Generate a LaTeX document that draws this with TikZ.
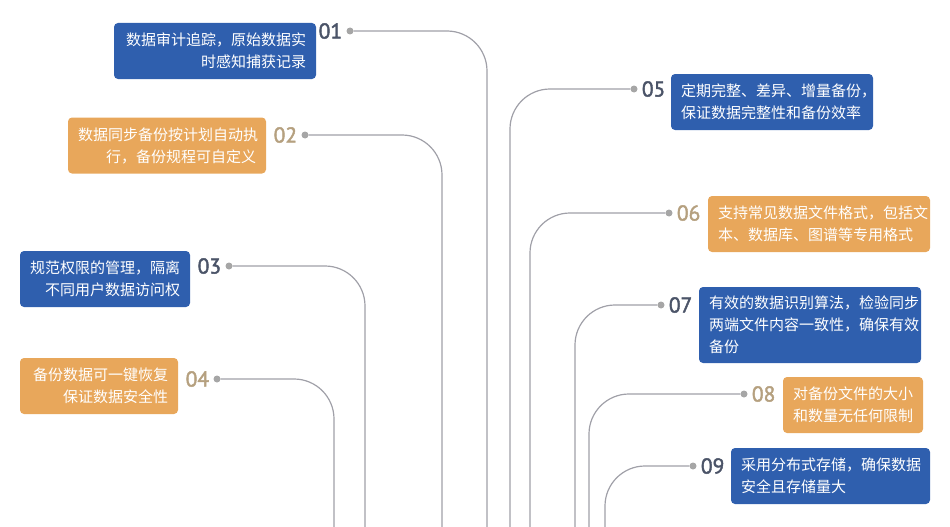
\documentclass[tikz,border=0pt]{standalone}
\usepackage{fontspec}
\setmainfont{Noto Sans CJK SC}
\newfontfamily\numfont[FakeBold=2]{PT Sans}
\usetikzlibrary{positioning}
\definecolor{boxblue}{HTML}{2F5FAE}
\definecolor{boxorange}{HTML}{E8A75B}
\definecolor{numblue}{HTML}{4B5468}
\definecolor{numtan}{HTML}{B5A07F}
\definecolor{linegray}{HTML}{A0A0A8}

\begin{document}
\begin{tikzpicture}[x=1pt, y=-1pt,
    card/.style={rounded corners=4pt, text=white, inner xsep=10pt, inner ysep=0pt,
                 font=\fontsize{15}{22}\selectfont, minimum height=56pt},
    bluecard/.style={card, fill=boxblue},
    orangecard/.style={card, fill=boxorange},
    pin/.style={circle, fill=gray!70, inner sep=0pt, minimum size=7pt},
    numblue/.style={inner sep=0pt, text=numblue, font=\numfont\fontsize{21.5}{21.5}\selectfont},
    numtan/.style={inner sep=0pt, text=numtan, font=\numfont\fontsize{21.5}{21.5}\selectfont},
    link/.style={draw=linegray, line width=1.2pt, rounded corners=40pt}]
                \useasboundingbox (0,0) rectangle (950,527);

                % left side
                \node[bluecard, text width=182pt, align=right] (t1) at (215,51) {数据审计追踪，原始数据实\\时感知捕获记录};
                \node[pin] (d1) at (350,31) {};
                \node[numblue, left=4pt of d1] (n1) {01};
                \coordinate (e1) at (487,527);

                \node[orangecard, text width=178pt, align=right] (t2) at (167,145.5) {数据同步备份按计划自动执\\行，备份规程可自定义};
                \node[pin] (d2) at (305,135) {};
                \node[numtan, left=4pt of d2] (n2) {02};
                \coordinate (e2) at (442,527);

                \node[bluecard, text width=150pt, align=right] (t3) at (105,279) {规范权限的管理，隔离\\不同用户数据访问权};
                \node[pin] (d3) at (229,266) {};
                \node[numblue, left=4pt of d3] (n3) {03};
                \coordinate (e3) at (365,527);

                \node[orangecard, text width=138pt, align=right] (t4) at (99,386) {备份数据可一键恢复\\保证数据安全性};
                \node[pin] (d4) at (217,379) {};
                \node[numtan, left=4pt of d4] (n4) {04};
                \coordinate (e4) at (334,527);

                % right side
                \node[bluecard, text width=182pt, align=left] (t5) at (772,102) {定期完整、差异、增量备份，\\保证数据完整性和备份效率};
                \node[pin] (d5) at (634,89) {};
                \node[numblue, right=4pt of d5] (n5) {05};
                \coordinate (e5) at (510,527);

                \node[orangecard, text width=202pt, align=left] (t6) at (819,224) {支持常见数据文件格式，包括文\\本、数据库、图谱等专用格式};
                \node[pin] (d6) at (669,213) {};
                \node[numtan, right=4pt of d6] (n6) {06};
                \coordinate (e6) at (530,527);

                \node[bluecard, text width=202pt, align=left, minimum height=76pt] (t7) at (810,325) {有效的数据识别算法，检验同步\\两端文件内容一致性，确保有效\\备份};
                \node[pin] (d7) at (661,305) {};
                \node[numblue, right=4pt of d7] (n7) {07};
                \coordinate (e7) at (575,527);

                \node[orangecard, text width=120pt, align=left] (t8) at (853,405) {对备份文件的大小\\和数量无任何限制};
                \node[pin] (d8) at (744,394) {};
                \node[numtan, right=4pt of d8] (n8) {08};
                \coordinate (e8) at (589,527);

                \node[bluecard, text width=179pt, align=left] (t9) at (830.5,476) {采用分布式存储，确保数据\\安全且存储量大};
                \node[pin] (d9) at (693,466) {};
                \node[numblue, right=4pt of d9] (n9) {09};
                \coordinate (e9) at (605,527);

                \foreach \i in {1,...,9}
                    \draw[link] (d\i) -| (e\i);
\end{tikzpicture}
\end{document}
